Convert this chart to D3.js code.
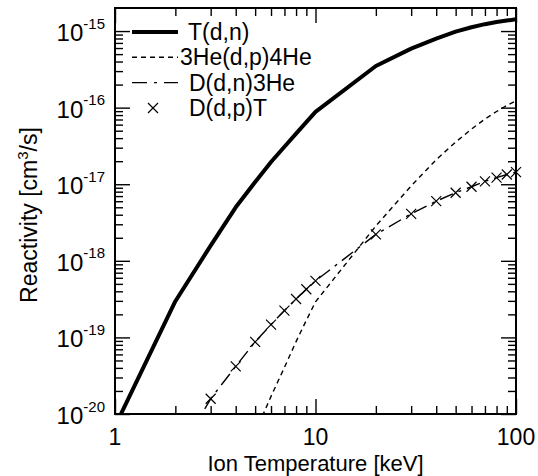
<!DOCTYPE html>
<html><head><meta charset="utf-8">
<script src="https://cdn.jsdelivr.net/npm/d3@7"></script>
<style>
body{margin:0;background:#fff;}
svg{display:block;}
text{font-family:"Liberation Sans",Arial,Helvetica,sans-serif;fill:#000;}
</style>
</head><body>
<svg id="c" width="538" height="476"></svg>
<script>
// ---- data ----
const temps = [1,2,3,4,5,6,7,8,9,10,20,30,40,50,60,70,80,90,100];
const tdn   = [6.9e-21,2.97e-19,1.58e-18,5.0e-18,1.07e-17,1.95e-17,3.09e-17,4.57e-17,6.46e-17,8.8e-17,3.5e-16,5.9e-16,7.98e-16,9.84e-16,1.12e-15,1.23e-15,1.31e-15,1.37e-15,1.43e-15];
const he3dp = [null,null,null,null,5.7e-21,1.7e-20,4.06e-20,8.8e-20,1.67e-19,2.91e-19,2.85e-18,9.5e-18,2.09e-17,3.55e-17,5.25e-17,7.1e-17,8.9e-17,1.07e-16,1.23e-16];
const ddn   = [null,2.6e-21,1.58e-20,4.19e-20,8.73e-20,1.47e-19,2.24e-19,3.17e-19,4.25e-19,5.47e-19,2.21e-18,4.11e-18,6.01e-18,7.75e-18,9.27e-18,1.09e-17,1.22e-17,1.34e-17,1.44e-17];
const ddp   = [null,null,1.58e-20,4.19e-20,8.73e-20,1.47e-19,2.24e-19,3.17e-19,4.25e-19,5.47e-19,2.21e-18,4.11e-18,6.01e-18,7.75e-18,9.27e-18,1.09e-17,1.22e-17,1.34e-17,1.44e-17];
const legendLabels = ["T(d,n)","3He(d,p)4He","D(d,n)3He","D(d,p)T"];
const xMajorTicks = [1,10,100];
const xTickLabels = ["1","10","100"];
const xMinorTicks = [2,3,4,5,6,7,8,9,20,30,40,50,60,70,80,90];
const yMajorTicks = [1e-20,1e-19,1e-18,1e-17,1e-16,1e-15];
const yExponents  = ["-20","-19","-18","-17","-16","-15"];
const xTitle = "Ion Temperature [keV]";

// ---- layout ----
const svg = d3.select("#c");
const L=115, R=516, T=8, B=414;
const x = d3.scaleLog().domain([1,100]).range([L,R]);
const y = d3.scaleLog().domain([1e-20,2e-15]).range([B,T]);

const yMinorTicks = [];
for (let e=-20;e<=-16;e++) for (let k=2;k<=9;k++) yMinorTicks.push(+(k+"e"+e));

const MAJ=15, MIN=8;
function axis(fn, scale, majors, minors, transform, attr, sign){
  const g = svg.append("g").attr("transform",transform)
    .call(fn(scale).tickValues(majors.concat(minors)).tickFormat("").tickSize(-MAJ).tickSizeOuter(0));
  g.select(".domain").remove();
  g.selectAll(".tick line").attr("stroke","#000").attr("stroke-width",1.4)
    .attr(attr, d => sign*(majors.includes(d)?MAJ:MIN));
}
axis(d3.axisBottom, x, xMajorTicks, xMinorTicks, `translate(0,${B})`, "y2", -1);
axis(d3.axisTop,    x, xMajorTicks, xMinorTicks, `translate(0,${T})`, "y2", 1);
axis(d3.axisLeft,   y, yMajorTicks, yMinorTicks, `translate(${L},0)`, "x2", 1);
axis(d3.axisRight,  y, yMajorTicks, yMinorTicks, `translate(${R},0)`, "x2", -1);

svg.append("rect").attr("x",L).attr("y",T).attr("width",R-L).attr("height",B-T)
  .attr("fill","none").attr("stroke","#000").attr("stroke-width",2);

// tick labels
svg.append("g").selectAll("text").data(xMajorTicks).join("text")
  .attr("x",d=>x(d)).attr("y",445).attr("text-anchor","middle")
  .style("font-size","23px").text((d,i)=>xTickLabels[i]);

const yl = svg.append("g").selectAll("text").data(yMajorTicks).join("text")
  .attr("x",105).attr("y",d=>y(d)+10).attr("text-anchor","end").style("font-size","24px");
yl.append("tspan").text("10");
yl.append("tspan").attr("dy",-12.5).style("font-size","15px").text((d,i)=>yExponents[i]);

// axis titles
svg.append("text").attr("x",(L+R)/2).attr("y",471).attr("text-anchor","middle")
  .style("font-size","22px").text(xTitle);
const yt = svg.append("text").attr("transform",`translate(37,${(T+B)/2+4}) rotate(-90)`)
  .attr("text-anchor","middle").style("font-size","23px");
yt.append("tspan").text("Reactivity [cm");
yt.append("tspan").attr("dy",-9).style("font-size","15px").text("3");
yt.append("tspan").attr("dy",9).text("/s]");

// clip
svg.append("clipPath").attr("id","clip").append("rect")
  .attr("x",L).attr("y",T).attr("width",R-L).attr("height",B-T);
const plot = svg.append("g").attr("clip-path","url(#clip)");

function series(vals){ return temps.map((t,i)=>({t,v:vals[i]})).filter(d=>d.v!=null); }
const line = d3.line().x(d=>x(d.t)).y(d=>y(d.v));

plot.append("path").datum(series(he3dp)).attr("d",line).attr("fill","none")
  .attr("stroke","#000").attr("stroke-width",1.4).attr("stroke-dasharray","5,4");
plot.append("path").datum(series(ddn)).attr("d",line).attr("fill","none")
  .attr("stroke","#000").attr("stroke-width",1.4).attr("stroke-dasharray","14,6,3,6");
plot.append("path").datum(series(tdn)).attr("d",line).attr("fill","none")
  .attr("stroke","#000").attr("stroke-width",4).attr("stroke-linejoin","round");

const cross = "M-5,-5L5,5M-5,5L5,-5";
svg.append("g").selectAll("path").data(series(ddp)).join("path")
  .attr("transform",d=>`translate(${x(d.t)},${y(d.v)})`).attr("d",cross)
  .attr("stroke","#000").attr("stroke-width",1.2).attr("fill","none");

// legend
const rows=[32,57.3,82.6,108], lx0=132, lx1=178, tx=[188,180,189,189];
const lg = svg.append("g");
lg.append("line").attr("x1",lx0).attr("x2",lx1).attr("y1",rows[0]).attr("y2",rows[0]).attr("stroke","#000").attr("stroke-width",4);
lg.append("line").attr("x1",lx0).attr("x2",lx1).attr("y1",rows[1]).attr("y2",rows[1]).attr("stroke","#000").attr("stroke-width",1.4).attr("stroke-dasharray","5,4");
lg.append("line").attr("x1",lx0).attr("x2",lx1).attr("y1",rows[2]).attr("y2",rows[2]).attr("stroke","#000").attr("stroke-width",1.4).attr("stroke-dasharray","15,7,3,7");
lg.append("path").attr("transform",`translate(153,${rows[3]})`).attr("d",cross).attr("stroke","#000").attr("stroke-width",1.2);
lg.selectAll("text").data(legendLabels).join("text")
  .attr("x",(d,i)=>tx[i]).attr("y",(d,i)=>rows[i]+8).style("font-size","23px").text(d=>d);
</script>
</body></html>
